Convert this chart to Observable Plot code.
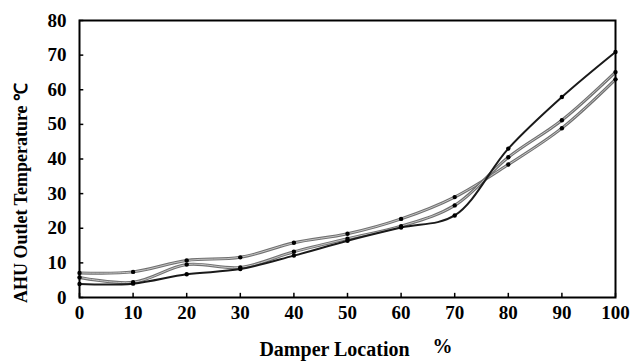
<!DOCTYPE html>
<html><head><meta charset="utf-8">
<script src="https://cdn.jsdelivr.net/npm/d3@7"></script>
<script src="https://cdn.jsdelivr.net/npm/@observablehq/plot@0.6"></script>
<style>body{margin:0;background:#fff}</style>
</head><body><div id="chart"></div>
<script>
const damper = [0, 10, 20, 30, 40, 50, 60, 70, 80, 90, 100];
const seriesA = [3.9, 4.0, 6.7, 8.2, 12.1, 16.4, 20.2, 23.7, 43.0, 57.9, 70.9]; // black
const seriesB = [7.1, 7.4, 10.7, 11.6, 15.8, 18.4, 22.7, 29.0, 38.4, 48.9, 63.0]; // grey
const seriesC = [5.8, 4.4, 9.5, 8.7, 13.2, 17.0, 20.6, 26.6, 40.5, 51.2, 65.1]; // grey
const xTicks = [0, 10, 20, 30, 40, 50, 60, 70, 80, 90, 100];
const yTicks = [0, 10, 20, 30, 40, 50, 60, 70, 80];
const xLabel = "Damper Location";
const xUnit = "%";
const yLabel = "AHU Outlet Temperature ℃";

const rows = s => damper.map((x, i) => ({x, y: s[i]}));
const A = rows(seriesA), B = rows(seriesB), C = rows(seriesC);
const curve = "catmull-rom";

const chart = Plot.plot({
  width: 635, height: 361,
  marginLeft: 79, marginRight: 20, marginTop: 20, marginBottom: 64,
  style: {fontFamily: "'Liberation Serif','Times New Roman',serif", fontWeight: "bold", fontSize: "19px", color: "black", background: "white"},
  x: {domain: [0, 100]},
  y: {domain: [0, 80]},
  marks: [
    Plot.axisX({ticks: xTicks, tickSize: 0, tickPadding: 8, label: null, fontSize: 19}),
    Plot.axisY({ticks: yTicks, tickSize: 0, tickPadding: 13, label: null, fontSize: 19}),
    Plot.ruleX(xTicks, {x: d => d, y1: 0, y2: 1.2, stroke: "black", strokeWidth: 1.5}),
    Plot.ruleY(yTicks, {y: d => d, x1: 0, x2: 0.8, stroke: "black", strokeWidth: 1.5}),
    Plot.line(B, {x: "x", y: "y", stroke: "#707070", strokeWidth: 3, curve}),
    Plot.line(B, {x: "x", y: "y", stroke: "#c4c4c4", strokeWidth: 1, curve}),
    Plot.line(C, {x: "x", y: "y", stroke: "#707070", strokeWidth: 3, curve}),
    Plot.line(C, {x: "x", y: "y", stroke: "#c4c4c4", strokeWidth: 1, curve}),
    Plot.line(A, {x: "x", y: "y", stroke: "#1a1a1a", strokeWidth: 2, curve}),
    Plot.dot([...A, ...B, ...C], {x: "x", y: "y", r: 2.2, fill: "black"}),
    Plot.frame({stroke: "black", strokeWidth: 2}),
    Plot.text([yLabel], {text: d => d, frameAnchor: "left", textAnchor: "middle", rotate: -90, dx: -58, dy: 34, fontSize: 18}),
    Plot.text([xLabel], {text: d => d, frameAnchor: "bottom", dx: -13, dy: 58, fontSize: 20}),
    Plot.text([xUnit], {text: d => d, frameAnchor: "bottom", dx: 95, dy: 55, fontSize: 20})
  ]
});
document.getElementById("chart").append(chart);
</script>
</body></html>
